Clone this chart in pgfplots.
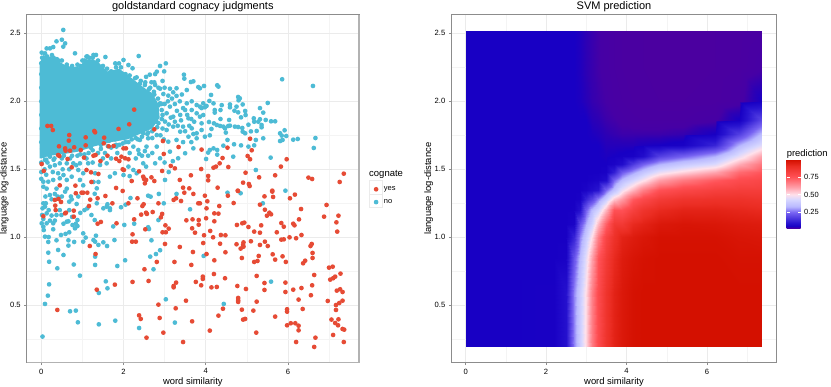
\documentclass[border=0pt]{standalone}
\usepackage{pgfplots}
\pgfplotsset{compat=1.18}
\usepackage{fontspec}
\setmainfont{Liberation Sans}
\definecolor{cogyes}{HTML}{E64B35}
\definecolor{cogno}{HTML}{4DBBD5}
\definecolor{majgrid}{HTML}{EBEBEB}
\definecolor{mingrid}{HTML}{F4F4F4}
\definecolor{border}{HTML}{8C8C8C}
\pgfplotsset{
  panel/.style={
    scale only axis,
    height=348pt,
    ymin=0.078, ymax=2.637,
    xtick={0,2,4,6}, minor xtick={1,3,5,7},
    ytick={0.5,1,1.5,2,2.5}, minor ytick={0.25,0.75,1.25,1.75,2.25},
    grid=both,
    major grid style={majgrid,line width=0.7pt},
    minor grid style={mingrid,line width=0.4pt},
    axis line style={border,line width=1pt},
    tick align=outside, tick pos=lower,
    major tick length=2.5pt,
    tick style={border,line width=0.5pt},
    minor tick length=0pt,
    tick label style={font=\fontsize{7.6}{9}\selectfont,black},
    /pgf/number format/assume math mode=true,
    /pgf/number format/fixed, /pgf/number format/fixed zerofill,
    yticklabel style={/pgf/number format/precision=1},
    xticklabel style={/pgf/number format/precision=0},
    xlabel={word similarity}, ylabel={language log-distance},
    label style={font=\fontsize{9.4}{11}\selectfont},
    xlabel style={at={(axis description cs:0.5,0)},anchor=base,yshift=-21.5pt,inner sep=0pt},
    ylabel style={at={(axis description cs:0,0.5)},anchor=south,yshift=17pt,inner sep=1pt},
    title style={font=\fontsize{11}{13}\selectfont,at={(axis description cs:0.5,1)},anchor=base,yshift=-0.5pt,inner sep=0pt},
  },
  yespts/.style={only marks,color=cogyes,mark=*,mark size=2.35pt,mark options={fill=cogyes,draw opacity=0}},
  nopts/.style={only marks,color=cogno,mark=*,mark size=2.35pt,mark options={fill=cogno,draw opacity=0}},
  colormap={svm}{rgb255(25)=(75,0,160) rgb255(35)=(70,0,165) rgb255(42)=(45,0,180) rgb255(50)=(24,0,196) rgb255(100)=(40,20,208)
    rgb255(250)=(120,100,242) rgb255(330)=(185,185,255) rgb255(430)=(215,215,255) rgb255(500)=(255,225,235) rgb255(600)=(255,160,170)
    rgb255(750)=(255,80,85) rgb255(900)=(235,45,35) rgb255(985)=(212,16,0)},
}
\begin{document}
\begin{tikzpicture}
\useasboundingbox (0,0) rectangle (831pt,387pt);
\begin{axis}[panel, at={(26.7pt,24.3pt)}, anchor=south west, width=332.3pt,
  xmin=-0.355, xmax=7.73,
  title={goldstandard cognacy judgments},
  legend style={at={(1.0444,0.512)},anchor=north west,draw=none,fill=none,inner sep=0pt,outer sep=0pt,
    font=\fontsize{7.5}{9}\selectfont,row sep=3.3pt,/tikz/every odd column/.append style={column sep=3.5pt}},
  legend cell align=left,
]
\addlegendimage{yespts}\addlegendentry{yes}
\addlegendimage{nopts}\addlegendentry{no}
% solid mass where the blue points overlap completely
\addplot[fill=cogno,draw=none,forget plot] coordinates {
(-0.04,1.58)(-0.04,2.28)(0.05,2.34)(0.3,2.32)(0.6,2.26)(0.9,2.25)(1.1,2.31)(1.35,2.3)(1.6,2.22)(1.9,2.24)(2.2,2.17)
(2.5,2.1)(2.7,2.06)(2.85,1.98)(2.88,1.88)(2.7,1.8)(2.4,1.76)(2.1,1.72)(1.7,1.7)(1.3,1.67)(0.9,1.63)(0.5,1.61)(0.2,1.6)(0,1.58)};
% blue: edge of the mass
\addplot[nopts,forget plot] coordinates {
(0,2.28)(0,2.2)(0.1,2.31)(.2,2.3)(.3,2.32)(.42,2.3)(.5,2.26)(.62,2.25)(.72,2.22)(.85,2.24)(.95,2.26)(1.05,2.3)(1.17,2.32)
(1.3,2.27)(1.45,2.2)(1.55,2.2)(1.65,2.16)(1.75,2.2)(1.9,2.2)(2.0,2.17)(2.1,2.12)(2.25,2.12)(2.35,2.08)(2.5,2.07)(2.6,2.03)
(2.75,2.05)(2.85,1.97)(2.95,1.9)(2.8,1.85)(2.65,1.82)(2.5,1.8)(2.3,1.77)(2.15,1.75)(1.95,1.74)(1.8,1.72)(1.65,1.71)
(1.45,1.68)(1.2,1.66)(1.0,1.66)(.85,1.65)(.65,1.64)(.4,1.62)(.2,1.6)(.05,1.6)(0,1.55)(0.02,1.65)(0,1.7)(0,1.8)(0,1.9)(0,2.0)(0,2.1)
(.02,2.32)(.14,2.33)(.26,2.34)(.38,2.31)(.5,2.3)(.62,2.27)(.75,2.26)(.88,2.27)(1.0,2.3)(1.12,2.33)(1.25,2.32)(1.38,2.3)(1.5,2.26)
(1.6,2.24)(1.7,2.22)(1.82,2.25)(1.94,2.25)(2.05,2.2)(2.15,2.19)(2.28,2.17)(2.4,2.13)(2.52,2.12)(2.62,2.09)(2.74,2.07)(2.84,2.02)
(2.92,1.98)(2.93,1.87)(2.82,1.81)(2.7,1.78)(2.58,1.76)(2.45,1.74)(2.3,1.73)(2.12,1.7)(1.98,1.69)(1.82,1.68)(1.62,1.67)(1.45,1.65)
(1.25,1.64)(1.05,1.61)(.88,1.6)(.7,1.58)(.5,1.58)(.3,1.57)(.12,1.57)
(2.55,1.97)(2.62,1.92)(2.7,1.96)(2.78,1.9)(2.85,1.84)(2.95,1.8)(3.0,1.98)(3.08,2.0)(3.18,2.02)(3.25,1.98)(3.3,1.93)(3.38,1.9)
(3.45,1.95)(3.42,2.05)(3.15,1.88)(3.1,1.83)(3.25,1.85)(3.32,1.82)(3.4,1.86)(3.55,1.9)(3.65,1.87)(3.72,1.85)(3.6,1.82)(3.5,1.78)
(3.7,1.76)(2.65,2.1)(2.75,2.14)(2.85,2.1)(2.95,2.15)(3.0,2.1)(2.55,2.18)(2.42,2.15)(2.9,1.75)(2.98,1.72)(2.7,1.73)(2.6,1.77)
(2.35,1.72)(2.2,1.72)(2.05,1.7)(1.9,1.68)(1.7,1.66)(1.55,1.62)(1.38,1.62)(1.15,1.62)(.95,1.61)(.75,1.6)(.55,1.6)(.32,1.58)
(.15,1.55)(.08,1.5)(.0,1.48)(0,1.43)(.12,1.46)(.28,1.48)(.52,1.5)(.68,1.5)(.85,1.53)(1.1,1.58)(1.25,1.55)(1.5,1.58)(1.7,1.58)
(1.85,1.62)(2.15,1.62)(2.3,1.58)(2.6,1.6)(2.7,1.62)(2.45,1.6)(2.15,1.45)(2.55,1.52)(3.0,1.55)(3.1,1.48)(3.2,1.56)(3.45,1.7)(3.65,1.7)
(0.1,1.3)(.25,1.28)(.4,1.3)(.5,1.3)(.72,1.3)(.9,1.3)(1.35,1.25)(1.3,1.32)(1.05,1.2)(.95,1.18)(.18,1.2)(.45,1.2)(.68,1.2)(.75,1.15)(.25,1.16)
};
% blue: top and right of the cloud
\addplot[nopts,forget plot] coordinates {
(.535,2.525)(.50,2.453)(.37,2.441)(.58,2.426)(.535,2.402)(.29,2.399)(.21,2.389)(.13,2.389)(.01,2.358)(.09,2.353)(.82,2.353)
(1.10,2.329)(1.27,2.341)(1.33,2.341)(1.56,2.326)(2.0,2.304)(1.80,2.279)(1.89,2.279)(2.12,2.267)(2.22,2.243)(2.37,2.333)
(3.03,2.279)(2.89,2.26)(2.81,2.218)(2.99,2.22)(2.77,2.20)(3.47,2.196)(3.48,2.167)(3.64,2.142)(3.70,2.147)(3.82,2.105)
(3.29,2.096)(3.21,2.066)(2.64,2.196)(2.53,2.14)(2.32,2.176)(2.68,2.14)(2.77,2.12)(2.89,2.093)(2.97,2.054)(3.09,2.042)
(3.13,2.093)(3.29,2.04)(3.54,2.083)(3.37,2.0)(3.54,1.985)(3.66,2.0)(3.78,1.973)(3.50,1.936)(3.66,1.936)(3.78,1.912)
(3.58,1.875)(3.21,1.887)(3.05,1.912)(2.93,1.936)(2.89,1.985)(3.13,1.961)(3.01,1.851)(3.45,1.814)(3.21,1.814)(3.05,1.789)
(3.66,1.801)(3.78,1.765)(3.38,1.777)(3.58,1.74)(3.78,1.728)(3.29,1.716)(3.09,1.703)(2.81,1.752)(2.60,1.728)(2.48,1.765)
(2.40,1.716)(2.56,1.667)(2.81,1.667)(2.36,1.642)(2.24,1.667)(2.52,1.634)(2.77,1.544)(2.89,1.581)(3.01,1.422)(3.13,1.63)
(3.33,1.581)(3.50,1.618)(3.70,1.654)(2.48,1.544)(2.38,1.613)(2.12,1.52)(1.83,1.667)(1.59,1.544)(1.43,1.532)(1.31,1.471)
(.94,1.544)(.78,1.544)(.62,1.544)(.45,1.544)(.33,1.53)(.21,1.52)(.21,1.593)(.09,1.569)(.74,1.446)(.90,1.495)(.54,1.458)
(.41,1.471)(.62,1.422)(.94,1.422)(.45,1.434)(.05,1.409)(.17,1.409)(.05,1.372)(.29,1.422)(1.27,1.407)(1.39,1.407)(1.02,1.382)
(1.35,1.36)(1.67,1.446)(1.79,1.471)(2.0,1.458)(2.24,1.495)(2.32,1.471)(1.02,1.471)(1.14,1.544)(.13,1.358)(.37,1.358)(.62,1.358)
(5.86,2.162)(6.61,2.113)(4.28,2.118)(4.31,2.108)(3.96,2.113)(4.13,2.047)(5.51,1.988)(4.79,2.032)(4.83,2.022)(4.80,2.007)
(4.09,2.003)(4.19,1.985)(3.94,1.985)(3.90,1.95)(3.98,1.956)(4.02,1.966)(3.86,1.961)(4.22,1.936)(4.22,1.917)(4.36,1.936)
(4.39,1.972)(4.59,1.977)(4.59,1.956)(4.75,1.961)(4.90,1.977)(4.70,1.931)(4.79,1.919)(4.86,1.882)(4.96,1.929)(4.97,1.899)
(5.32,1.95)(5.40,1.917)(4.36,1.870)(4.57,1.863)(4.08,1.848)(4.27,1.826)(4.20,1.838)(4.35,1.819)(4.43,1.814)(4.55,1.819)
(4.59,1.821)(4.71,1.814)(4.79,1.811)(4.89,1.804)(5.04,1.828)(5.17,1.875)(5.18,1.85)(5.28,1.85)(5.32,1.868)(5.46,1.863)
(5.59,1.853)(5.69,1.853)(5.36,1.826)(5.36,1.809)(5.10,1.779)(5.24,1.782)(4.90,1.777)(4.96,1.765)(4.47,1.801)(4.49,1.77)
(4.14,1.797)(3.90,1.789)(3.98,1.740)(4.10,1.75)(4.53,1.716)(5.22,1.716)(5.40,1.728)(5.92,1.787)(5.81,1.765)(5.85,1.748)
(5.96,1.745)(5.87,1.716)(5.81,1.708)(6.13,1.718)(6.24,1.723)(6.67,1.73)(6.63,1.657)(4.69,1.684)(4.86,1.676)(5.04,1.667)
(5.18,1.676)(4.43,1.674)(4.19,1.654)(4.10,1.642)(4.06,1.623)(4.28,1.642)(4.28,1.608)(4.67,1.593)(4.01,1.576)(5.58,1.586)
(5.22,1.495)(3.86,2.096)(3.86,1.887)(3.94,1.899)(3.90,1.838)
};
% blue: lower part
\addplot[nopts,forget plot] coordinates {
(.03,.27)(.09,.51)(.16,.571)(.19,.654)(.94,.718)(.39,.772)(.79,.80)(.19,.82)(.17,.887)(.41,.907)(.54,.87)(.66,.939)(.17,.966)
(.37,.978)(.80,.966)(.66,.978)(.09,1.005)(.18,1.002)(.48,1.017)(.59,1.025)(.68,1.037)(1.02,1.029)(1.08,.998)(1.02,.968)(1.27,.98)
(1.33,1.012)(1.31,.968)(1.39,.944)(1.51,.963)(1.60,.936)(1.78,.98)(1.31,.858)(1.31,.797)(1.85,.789)(2.04,.831)(1.57,.676)
(1.61,.625)(1.40,.591)(2.65,.858)(2.79,.877)(2.89,.905)(2.73,.765)(2.68,.978)(3.03,.544)(3.25,.373)(2.38,.333)(1.80,.387)
(1.40,.36)(.89,.375)(.70,.456)(.84,.461)(1.75,1.08)(2.02,1.091)(2.26,1.10)(2.60,1.074)(2.62,1.061)(2.85,1.127)(3.62,1.206)
(2.98,1.25)(1.94,1.221)(2.05,1.24)(2.17,1.289)(2.60,1.306)(2.66,1.299)(2.86,1.319)(3.29,1.319)
(.01,1.103)(.05,1.135)(.02,1.164)(.13,1.176)(.13,1.103)(.21,1.123)(.29,1.103)(.29,1.059)(.33,1.123)(.37,1.164)(.54,1.10)
(.62,1.115)(.66,1.118)(.76,1.09)(.84,1.10)(.88,1.127)(.82,1.066)(.88,1.083)(.05,1.078)(.06,1.053)(.03,1.213)(.11,1.25)(.05,1.25)
(.09,1.225)(.21,1.311)(.33,1.319)(.58,1.336)(.68,1.262)(.74,1.279)(.86,1.245)(.49,1.164)(1.22,1.164)(1.30,1.127)(1.12,1.213)
(1.59,1.225)(1.67,1.213)(1.61,1.243)(1.67,1.2)(1.51,1.213)
(4.53,1.328)(4.85,1.324)(5.94,1.343)(5.39,1.25)(3.95,.863)(5.59,.674)(4.44,.51)
};
% red points
\addplot[yespts,forget plot] coordinates {
(.01,1.539)(.06,1.488)(.15,1.819)(.24,1.819)(.28,1.789)(.43,1.669)(.41,1.605)(.44,1.598)(.58,1.654)(.59,1.637)(.67,1.711)(.68,1.752)
(.70,1.637)(.80,1.662)(.64,1.576)(.74,1.515)(.96,1.642)(1.04,1.586)(1.08,1.735)(1.08,1.676)(1.29,1.782)(1.31,1.772)(1.27,1.60)
(1.32,1.605)(1.53,1.733)(1.52,1.691)(1.64,1.669)(1.76,1.672)(1.61,1.60)(1.44,1.561)(1.82,1.578)(1.90,1.561)(1.95,1.593)(2.04,1.581)
(2.12,1.574)(2.00,1.654)(2.06,1.654)(1.88,1.797)(2.14,1.831)(2.26,1.939)(2.75,1.794)(2.96,1.708)(2.98,1.613)(3.34,1.664)(3.15,1.525)
(3.25,1.507)(2.94,1.488)(3.64,1.456)(3.37,1.422)(2.48,1.446)(2.50,1.429)(2.55,1.422)(2.68,1.441)(2.75,1.414)(2.20,1.414)(1.82,1.363)
(.45,1.382)(.83,1.38)(1.10,1.495)(1.21,1.478)(1.39,1.466)(1.22,1.407)(1.98,1.50)(2.01,1.495)(2.38,1.485)(2.52,1.397)(3.45,1.365)(3.60,1.36)
(5.08,1.725)(5.12,1.64)(4.53,1.659)(3.90,1.645)(5.02,1.598)(5.08,1.574)(4.41,1.583)(4.34,1.544)(4.25,1.52)(4.19,1.512)(4.55,1.517)
(3.89,1.502)(5.97,1.574)(5.83,1.52)(4.97,1.475)(5.30,1.441)(5.69,1.456)(4.06,1.451)(4.06,1.419)(4.91,1.402)(5.05,1.392)(5.07,1.377)
(4.29,1.365)(6.50,1.439)(6.59,1.429)(7.36,1.468)(7.26,1.407)(4.78,1.343)(5.62,1.343)
(.05,1.155)(.39,.466)(1.35,.615)(1.79,.652)(2.22,.672)(2.61,.679)(3.22,.642)(3.22,.632)(3.28,.667)(3.76,.672)(3.52,.534)(2.85,.505)
(3.27,.478)(2.38,.426)(2.42,.40)(2.88,.407)(2.97,.299)(2.56,.262)(3.45,.23)(3.67,.382)(2.51,.765)(2.81,.819)(3.24,.819)(3.65,.797)
(3.69,.892)(3.37,.929)(3.01,.951)(2.21,.968)(2.30,.968)(1.18,.936)(1.32,.877)(2.22,1.022)(2.53,1.059)(2.95,1.037)(3.03,1.037)(3.02,1.088)
(3.10,1.064)(3.53,1.125)(3.68,1.132)(3.83,1.127)(3.67,1.066)(3.83,1.093)(3.74,1.034)(2.26,1.132)(1.83,1.103)(1.45,1.113)(1.37,1.10)
(2.43,1.167)(2.55,1.181)(2.57,1.172)(2.71,1.186)(2.94,1.172)(2.91,1.147)(2.85,1.25)(3.28,1.287)(3.22,1.275)(3.40,1.267)(3.82,1.25)
(3.48,1.328)(3.70,1.319)(2.46,1.23)(2.49,1.243)(2.34,1.287)(2.12,1.25)(1.98,1.341)(1.56,1.304)(1.37,1.287)(1.19,1.277)(1.16,1.23)
(1.73,1.25)(1.12,1.328)(1.02,1.328)(.98,1.328)(.84,1.324)(.33,1.275)(.42,1.282)(.48,1.26)(.34,1.233)(.35,1.20)(.58,1.176)(.60,1.181)
(.79,1.152)(.79,1.196)
(4.54,1.306)(4.785,1.341)(5.62,1.336)(5.43,1.301)(5.64,1.297)(6.17,1.314)(6.05,1.287)(4.68,1.252)(4.33,1.230)(4.04,1.265)(3.98,1.306)
(3.86,1.25)(4.02,1.213)(4.21,1.176)(4.31,1.174)(4.01,1.14)(4.21,1.118)(5.32,1.24)(5.44,1.203)(5.55,1.181)(5.59,1.169)(5.49,1.159)
(6.32,1.208)(6.27,1.132)(5.84,1.105)(5.90,1.078)(6.13,1.10)(6.16,1.088)(5.35,1.088)(5.04,1.076)(4.94,1.108)(4.89,1.103)(4.76,1.091)
(5.18,1.042)(5.32,1.034)(5.73,1.037)(4.11,1.047)(3.96,1.015)(4.18,1.0)(4.37,1.017)(4.48,1.015)(6.33,1.017)(6.20,.993)(6.04,1.0)
(5.90,.985)(5.84,.983)(5.44,.968)(5.10,.971)(4.92,.963)(4.91,.944)(4.92,.931)(4.85,.917)(4.75,.949)(4.35,.953)(3.94,.958)(5.32,.944)
(5.51,.936)(6.58,.951)(6.55,.936)(6.60,.885)(6.60,.848)(4.48,.89)(4.02,.877)(4.88,.848)(5.29,.863)(5.63,.875)(5.87,.86)(5.69,.836)
(5.26,.826)(5.18,.819)(4.21,.831)(5.95,.819)(6.42,.828)(6.37,.809)(7.09,.784)(7.00,.777)(6.88,1.152)(6.94,1.238)(7.23,1.159)(7.18,1.11)
(7.20,1.042)(6.64,.723)(7.28,.733)(7.15,.711)(7.10,.699)(7.03,.689)(4.20,.73)(4.47,.699)(3.93,.711)(3.93,.694)(5.24,.716)(5.43,.664)
(5.94,.667)(6.59,.647)(6.33,.627)(6.13,.615)(5.94,.598)(5.43,.613)(4.98,.62)(4.77,.642)(4.27,.635)(4.14,.632)(3.89,.647)(6.56,.574)
(6.26,.542)(4.79,.554)(4.79,.537)(4.79,.525)(5.24,.527)(7.19,.608)(7.27,.618)(7.33,.598)(6.97,.532)(7.33,.534)(7.25,.517)(7.17,.502)
(7.17,.466)(6.36,.473)(5.98,.471)(5.98,.453)(5.16,.461)(4.88,.468)(4.42,.475)(4.31,.424)(5.69,.417)(4.91,.395)(4.96,.40)(7.06,.395)
(7.23,.397)(7.15,.37)(7.22,.353)(5.98,.353)(6.07,.368)(6.18,.368)(6.26,.35)(6.26,.316)(7.33,.326)(7.37,.321)(5.23,.299)(4.10,.314)
(7.10,.282)(6.67,.262)(6.20,.23)(7.36,.23)(6.64,.194)
};
\end{axis}
\draw[black!30,line width=1.6pt] (26.7pt,24.3pt) -- (359pt,24.3pt) -- (359pt,372.3pt);
\node[anchor=west,inner sep=0pt,font=\fontsize{9.5}{11}\selectfont] at (369pt,213pt) {cognate};
\draw[majgrid,line width=0.6pt] (369.5pt,179.5pt) rectangle (382.5pt,206.5pt) (369.5pt,193pt)--(382.5pt,193pt);
\begin{axis}[panel, at={(451.3pt,24.3pt)}, anchor=south west, width=325.4pt,
  xmin=-0.358, xmax=7.736,
  title={SVM prediction},
  colormap name=svm, point meta min=0.025, point meta max=0.985,
  colorbar,
  colorbar style={scale only axis, at={(1.0307,0.5825)}, anchor=north west, width=14pt, height=68.3pt,
    axis line style={draw=none}, ytick={0.25,0.5,0.75}, yticklabel pos=right,
    tick style={white,line width=0.4pt}, tick align=inside, major tick length=3pt,
    tick label style={font=\fontsize{7.5}{9}\selectfont},
    /pgf/number format/fixed, /pgf/number format/fixed zerofill, /pgf/number format/precision=2,
    /pgf/number format/assume math mode=true,
    grid=none, xlabel={}, ylabel={},
    title={prediction}, title style={font=\fontsize{9.4}{11}\selectfont,at={(0,1)},anchor=base west,yshift=-3pt,xshift=0pt,inner sep=0pt},
  },
]
\addplot[surf,shader=interp,point meta=explicit,mesh/ordering=y varies,mesh/rows=18,mesh/cols=18] coordinates {
(0,.196)[.05](0,.6)[.05](0,.85)[.05](0,1)[.05](0,1.1)[.05](0,1.2)[.05](0,1.28)[.05](0,1.35)[.05](0,1.42)[.05](0,1.48)[.05](0,1.54)[.05](0,1.6)[.05](0,1.68)[.05](0,1.76)[.05](0,1.86)[.05](0,2)[.05](0,2.25)[.05](0,2.52)[.05]
(2.2,.196)[.052](2.2,.6)[.052](2.2,.85)[.05](2.2,1)[.05](2.2,1.1)[.05](2.2,1.2)[.05](2.2,1.28)[.05](2.2,1.35)[.05](2.2,1.42)[.05](2.2,1.48)[.05](2.2,1.54)[.05](2.2,1.6)[.05](2.2,1.68)[.05](2.2,1.76)[.05](2.2,1.86)[.05](2.2,2)[.05](2.2,2.25)[.05](2.2,2.52)[.05]
(2.5,.196)[.09](2.5,.6)[.09](2.5,.85)[.055](2.5,1)[.05](2.5,1.1)[.05](2.5,1.2)[.05](2.5,1.28)[.05](2.5,1.35)[.05](2.5,1.42)[.05](2.5,1.48)[.05](2.5,1.54)[.05](2.5,1.6)[.05](2.5,1.68)[.05](2.5,1.76)[.05](2.5,1.86)[.05](2.5,2)[.05](2.5,2.25)[.05](2.5,2.52)[.05]
(2.7,.196)[.28](2.7,.6)[.28](2.7,.85)[.22](2.7,1)[.13](2.7,1.1)[.06](2.7,1.2)[.052](2.7,1.28)[.05](2.7,1.35)[.05](2.7,1.42)[.05](2.7,1.48)[.05](2.7,1.54)[.05](2.7,1.6)[.05](2.7,1.68)[.05](2.7,1.76)[.05](2.7,1.86)[.05](2.7,2)[.05](2.7,2.25)[.05](2.7,2.52)[.05]
(2.85,.196)[.40](2.85,.6)[.39](2.85,.85)[.34](2.85,1)[.28](2.85,1.1)[.21](2.85,1.2)[.09](2.85,1.28)[.055](2.85,1.35)[.05](2.85,1.42)[.05](2.85,1.48)[.05](2.85,1.54)[.05](2.85,1.6)[.05](2.85,1.68)[.05](2.85,1.76)[.05](2.85,1.86)[.05](2.85,2)[.048](2.85,2.25)[.047](2.85,2.52)[.047]
(3,.196)[.52](3,.6)[.51](3,.85)[.46](3,1)[.39](3,1.1)[.32](3,1.2)[.24](3,1.28)[.13](3,1.35)[.06](3,1.42)[.05](3,1.48)[.05](3,1.54)[.05](3,1.6)[.05](3,1.68)[.05](3,1.76)[.05](3,1.86)[.05](3,2)[.044](3,2.25)[.042](3,2.52)[.042]
(3.15,.196)[.67](3.15,.6)[.66](3.15,.85)[.60](3.15,1)[.51](3.15,1.1)[.42](3.15,1.2)[.34](3.15,1.28)[.19](3.15,1.35)[.08](3.15,1.42)[.055](3.15,1.48)[.05](3.15,1.54)[.05](3.15,1.6)[.05](3.15,1.68)[.05](3.15,1.76)[.048](3.15,1.86)[.044](3.15,2)[.04](3.15,2.25)[.039](3.15,2.52)[.039]
(3.3,.196)[.77](3.3,.6)[.77](3.3,.85)[.74](3.3,1)[.66](3.3,1.1)[.56](3.3,1.2)[.42](3.3,1.28)[.28](3.3,1.35)[.1](3.3,1.42)[.06](3.3,1.48)[.05](3.3,1.54)[.05](3.3,1.6)[.05](3.3,1.68)[.05](3.3,1.76)[.046](3.3,1.86)[.042](3.3,2)[.038](3.3,2.25)[.036](3.3,2.52)[.036]
(3.5,.196)[.87](3.5,.6)[.87](3.5,.85)[.84](3.5,1)[.8](3.5,1.1)[.72](3.5,1.2)[.57](3.5,1.28)[.4](3.5,1.35)[.25](3.5,1.42)[.08](3.5,1.48)[.055](3.5,1.54)[.05](3.5,1.6)[.048](3.5,1.68)[.045](3.5,1.76)[.042](3.5,1.86)[.038](3.5,2)[.035](3.5,2.25)[.033](3.5,2.52)[.033]
(3.7,.196)[.93](3.7,.6)[.93](3.7,.85)[.91](3.7,1)[.88](3.7,1.1)[.85](3.7,1.2)[.75](3.7,1.28)[.54](3.7,1.35)[.36](3.7,1.42)[.25](3.7,1.48)[.12](3.7,1.54)[.06](3.7,1.6)[.05](3.7,1.68)[.045](3.7,1.76)[.04](3.7,1.86)[.036](3.7,2)[.032](3.7,2.25)[.03](3.7,2.52)[.03]
(3.9,.196)[.96](3.9,.6)[.96](3.9,.85)[.95](3.9,1)[.93](3.9,1.1)[.85](3.9,1.2)[.75](3.9,1.28)[.61](3.9,1.35)[.47](3.9,1.42)[.34](3.9,1.48)[.23](3.9,1.54)[.08](3.9,1.6)[.052](3.9,1.68)[.045](3.9,1.76)[.038](3.9,1.86)[.033](3.9,2)[.03](3.9,2.25)[.028](3.9,2.52)[.028]
(4.15,.196)[.98](4.15,.6)[.98](4.15,.85)[.97](4.15,1)[.95](4.15,1.1)[.91](4.15,1.2)[.82](4.15,1.28)[.73](4.15,1.35)[.57](4.15,1.42)[.42](4.15,1.48)[.3](4.15,1.54)[.17](4.15,1.6)[.055](4.15,1.68)[.045](4.15,1.76)[.038](4.15,1.86)[.031](4.15,2)[.028](4.15,2.25)[.027](4.15,2.52)[.027]
(4.4,.196)[.985](4.4,.6)[.985](4.4,.85)[.98](4.4,1)[.965](4.4,1.1)[.93](4.4,1.2)[.87](4.4,1.28)[.78](4.4,1.35)[.66](4.4,1.42)[.49](4.4,1.48)[.37](4.4,1.54)[.24](4.4,1.6)[.08](4.4,1.68)[.048](4.4,1.76)[.038](4.4,1.86)[.03](4.4,2)[.027](4.4,2.25)[.026](4.4,2.52)[.026]
(4.8,.196)[.985](4.8,.6)[.985](4.8,.85)[.985](4.8,1)[.98](4.8,1.1)[.96](4.8,1.2)[.91](4.8,1.28)[.84](4.8,1.35)[.75](4.8,1.42)[.6](4.8,1.48)[.46](4.8,1.54)[.32](4.8,1.6)[.18](4.8,1.68)[.05](4.8,1.76)[.038](4.8,1.86)[.03](4.8,2)[.026](4.8,2.25)[.025](4.8,2.52)[.025]
(5.4,.196)[.985](5.4,.6)[.985](5.4,.85)[.985](5.4,1)[.98](5.4,1.1)[.97](5.4,1.2)[.93](5.4,1.28)[.87](5.4,1.35)[.79](5.4,1.42)[.67](5.4,1.48)[.52](5.4,1.54)[.38](5.4,1.6)[.24](5.4,1.68)[.055](5.4,1.76)[.04](5.4,1.86)[.03](5.4,2)[.026](5.4,2.25)[.025](5.4,2.52)[.025]
(6.2,.196)[.985](6.2,.6)[.985](6.2,.85)[.985](6.2,1)[.98](6.2,1.1)[.965](6.2,1.2)[.93](6.2,1.28)[.88](6.2,1.35)[.82](6.2,1.42)[.73](6.2,1.48)[.59](6.2,1.54)[.44](6.2,1.6)[.32](6.2,1.68)[.13](6.2,1.76)[.05](6.2,1.86)[.034](6.2,2)[.027](6.2,2.25)[.026](6.2,2.52)[.026]
(6.8,.196)[.985](6.8,.6)[.985](6.8,.85)[.98](6.8,1)[.97](6.8,1.1)[.955](6.8,1.2)[.92](6.8,1.28)[.88](6.8,1.35)[.83](6.8,1.42)[.77](6.8,1.48)[.7](6.8,1.54)[.58](6.8,1.6)[.46](6.8,1.68)[.32](6.8,1.76)[.18](6.8,1.86)[.05](6.8,2)[.032](6.8,2.25)[.028](6.8,2.52)[.027]
(7.37,.196)[.985](7.37,.6)[.985](7.37,.85)[.98](7.37,1)[.965](7.37,1.1)[.95](7.37,1.2)[.91](7.37,1.28)[.87](7.37,1.35)[.83](7.37,1.42)[.79](7.37,1.48)[.74](7.37,1.54)[.68](7.37,1.6)[.6](7.37,1.68)[.45](7.37,1.76)[.34](7.37,1.86)[.2](7.37,2)[.05](7.37,2.25)[.034](7.37,2.52)[.03]
};
\end{axis}
\end{tikzpicture}
\end{document}
